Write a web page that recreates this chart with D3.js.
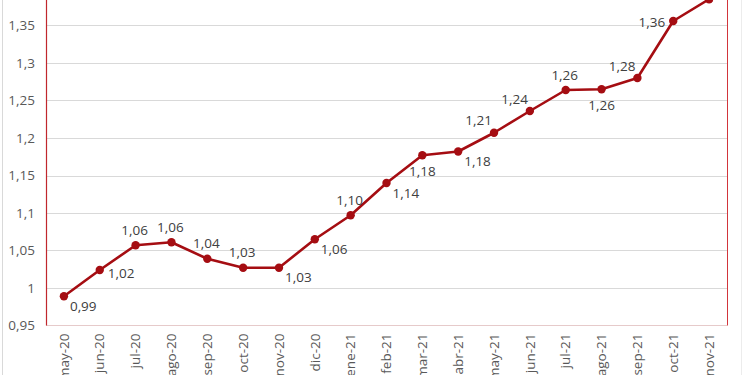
<!DOCTYPE html>
<html><head><meta charset="utf-8">
<script src="https://cdn.jsdelivr.net/npm/d3@7"></script>
<style>body{margin:0;background:#fff;}svg{display:block;}</style>
</head><body>
<svg id="c" width="750" height="375"></svg>
<script>
const categories = ["may-20","jun-20","jul-20","ago-20","sep-20","oct-20","nov-20","dic-20","ene-21","feb-21","mar-21","abr-21","may-21","jun-21","jul-21","ago-21","sep-21","oct-21","nov-21"];
const values = [0.989,1.024,1.057,1.061,1.039,1.027,1.027,1.065,1.097,1.140,1.177,1.182,1.207,1.236,1.264,1.265,1.280,1.356,1.385];
const valueLabels = ["0,99","1,02","1,06","1,06","1,04","1,03","1,03","1,06","1,10","1,14","1,18","1,18","1,21","1,24","1,26","1,26","1,28","1,36","1,39"];
const labelPlacement = ["br","r","t","t","t","t","br","br","t","br","b","br","tl","tl","t","b","tl","l","tl"];
const yTicks = [0.95,1,1.05,1.1,1.15,1.2,1.25,1.3,1.35];

const svg = d3.select("#c");
const L = 46, R = 727, B = 325.5;
const x = d3.scaleBand().domain(categories).range([L, R]);
const y = d3.scaleLinear().domain([0.95, 1.4]).range([B, -12]);
const fmt = v => d3.format(".2~f")(v).replace(".", ",");
const FONT = "'Open Sans', sans-serif";

// outer frame
svg.append("line").attr("x1",2.5).attr("x2",2.5).attr("y1",0).attr("y2",375).attr("stroke","#d9d9d9");
svg.append("line").attr("x1",741.5).attr("x2",741.5).attr("y1",0).attr("y2",375).attr("stroke","#ececec");

// gridlines
svg.append("g").selectAll("line").data(yTicks.slice(1)).join("line")
  .attr("x1", L).attr("x2", R)
  .attr("y1", d => Math.round(y(d)) + 0.5).attr("y2", d => Math.round(y(d)) + 0.5)
  .attr("stroke", "#d9d9d9").attr("stroke-width", 1);

// y axis
const yAxis = svg.append("g").attr("transform", `translate(${L},0)`)
  .call(d3.axisLeft(y).tickValues(yTicks).tickSize(0).tickPadding(11).tickFormat(fmt));
yAxis.select(".domain").remove();
yAxis.selectAll("text").attr("fill","#595959").style("font-family",FONT).style("font-size","13.5px");

// x axis
const xAxis = svg.append("g").attr("transform", `translate(0,${B})`)
  .call(d3.axisBottom(x).tickSize(0).tickPadding(0));
xAxis.select(".domain").remove();
xAxis.selectAll("text")
  .attr("transform", "rotate(-90)")
  .attr("text-anchor", "end")
  .attr("x", -8).attr("y", 0).attr("dy", "0.35em")
  .attr("fill","#595959").style("font-family",FONT).style("font-size","13.5px");

// plot borders
svg.append("line").attr("x1",L).attr("x2",R).attr("y1",B).attr("y2",B).attr("stroke","#e6caca").attr("stroke-width",1);
svg.append("line").attr("x1",L+0.5).attr("x2",L+0.5).attr("y1",0).attr("y2",B).attr("stroke","#c0272d").attr("stroke-width",1.2);
svg.append("line").attr("x1",R+0.5).attr("x2",R+0.5).attr("y1",0).attr("y2",B).attr("stroke","#d2353b").attr("stroke-width",1);

const cx = (d,i) => x(categories[i]) + x.bandwidth()/2;
const pts = values.map((v,i) => [cx(v,i), y(v)]);

svg.append("path").datum(pts)
  .attr("d", d3.line())
  .attr("fill","none").attr("stroke","#a50d12").attr("stroke-width",2.6).attr("stroke-linejoin","round");

svg.append("g").selectAll("circle").data(pts).join("circle")
  .attr("cx", d => d[0]).attr("cy", d => d[1]).attr("r", 4.2).attr("fill","#a50d12");

const off = {
  t:  {dx: -1, dy: -15, a: "middle"},
  b:  {dx: 0,  dy: 16,  a: "middle"},
  r:  {dx: 8,  dy: 3,   a: "start"},
  l:  {dx: -8, dy: 1,   a: "end"},
  br: {dx: 6,  dy: 10,  a: "start"},
  tl: {dx: -2, dy: -12, a: "end"}
};
svg.append("g").selectAll("text").data(pts).join("text")
  .attr("x", (d,i) => d[0] + off[labelPlacement[i]].dx)
  .attr("y", (d,i) => d[1] + off[labelPlacement[i]].dy)
  .attr("dy", "0.35em")
  .attr("text-anchor", (d,i) => off[labelPlacement[i]].a)
  .attr("fill", "#404040")
  .style("font-family",FONT).style("font-size","13.5px")
  .text((d,i) => valueLabels[i]);
</script>
</body></html>
